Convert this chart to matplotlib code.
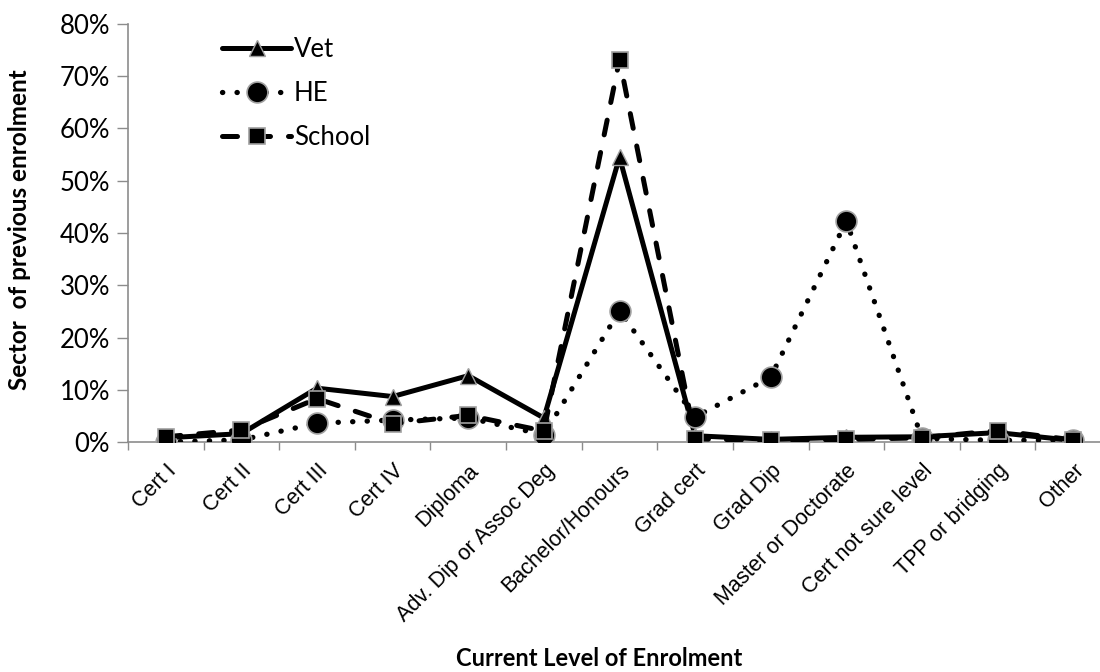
import numpy as np
import matplotlib
matplotlib.use("Agg")
import matplotlib.pyplot as plt
from matplotlib.ticker import FixedLocator, PercentFormatter

categories = ["Cert I", "Cert II", "Cert III", "Cert IV", "Diploma",
              "Adv. Dip or Assoc Deg", "Bachelor/Honours", "Grad cert",
              "Grad Dip", "Master or Doctorate", "Cert not sure level",
              "TPP or bridging", "Other"]

vet    = [0.8, 1.6, 10.3, 8.7, 12.7, 4.6, 54.5, 1.2, 0.5, 0.9, 1.0, 1.8, 0.3]
he     = [0.0, 0.4, 3.6, 4.2, 4.6, 1.4, 25.1, 4.8, 12.4, 42.3, 0.7, 0.3, 0.4]
school = [1.0, 2.3, 8.3, 3.5, 5.1, 2.1, 73.2, 0.6, 0.3, 0.5, 0.8, 2.2, 0.4]

GREY = "#8c8c8c"


def main():
    fig = plt.figure(figsize=(11, 6.72), dpi=100)
    ax = fig.add_axes([128 / 1100, 1 - 442 / 672, (1111 - 128) / 1100, (442 - 24) / 672])

    x = np.arange(len(categories))

    # Vet - solid with triangles
    ax.plot(x, vet, color="black", lw=3.6, solid_capstyle="round", solid_joinstyle="round",
            marker="^", ms=12, mfc="black", mec="#a0a0a0", mew=1.0, label="Vet", zorder=3)
    # HE - dotted with circles
    ax.plot(x, he, color="black", lw=3.8, linestyle=(0, (0.05, 2.7)), dash_capstyle="round",
            marker="o", ms=15, mfc="black", mec="#a0a0a0", mew=1.2, label="HE", zorder=4)
    # School - dashed with squares
    ax.plot(x, school, color="black", lw=3.6, linestyle=(0, (3.0, 3.6)), dash_capstyle="round",
            marker="s", ms=11, mfc="black", mec="#a0a0a0", mew=1.2, label="School", zorder=5)

    ax.set_xlim(-0.5, len(categories) - 0.5)
    ax.set_ylim(0, 80)
    ax.set_yticks(np.arange(0, 81, 10))
    ax.yaxis.set_major_formatter(PercentFormatter(decimals=0))

    # category boundaries as ticks, labels at centres
    ax.xaxis.set_major_locator(FixedLocator(np.arange(-0.5, len(categories), 1.0)))
    ax.xaxis.set_major_formatter(plt.NullFormatter())
    ax.xaxis.set_minor_locator(FixedLocator(x))
    ax.set_xticklabels(categories, minor=True, rotation=45, ha="right",
                       rotation_mode="anchor", fontsize=15.5, family="Liberation Sans")
    ax.tick_params(axis="x", which="minor", length=0, pad=13)
    ax.tick_params(axis="x", which="major", length=6, width=1, color=GREY, direction="out")
    ax.tick_params(axis="y", which="major", length=8, width=1, color=GREY, direction="out",
                   labelsize=18.5, pad=5)
    for lab in ax.get_yticklabels():
        lab.set_family("Lato")

    for side in ["top", "right"]:
        ax.spines[side].set_visible(False)
    for side in ["left", "bottom"]:
        ax.spines[side].set_color(GREY)
        ax.spines[side].set_linewidth(1.2)

    fig.text(0.545, 1 - 658 / 672, "Current Level of Enrolment", ha="center", va="center",
             fontsize=17, fontweight="bold", family="Lato")
    fig.text(0.018, 1 - 230 / 672, "Sector  of previous enrolment", ha="center", va="center",
             rotation=90, fontsize=17.5, fontweight="bold", family="Lato")

    ax.legend(loc="upper left", bbox_to_anchor=(0.072, 1.025), frameon=False,
              handlelength=2.7, handletextpad=0.1, labelspacing=0.75,
              prop={"family": "Lato", "size": 18.5})

    fig.savefig("out.png", dpi=100)


if __name__ == "__main__":
    main()
